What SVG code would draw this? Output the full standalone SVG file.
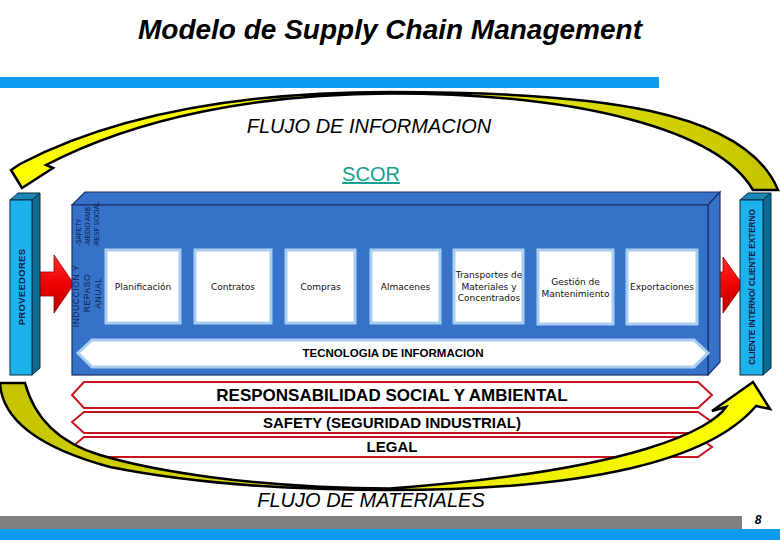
<svg xmlns="http://www.w3.org/2000/svg" width="780" height="540" viewBox="0 0 780 540">
<defs>
<style>
.title{font-family:"Liberation Sans",Arial,sans-serif;font-weight:bold;font-style:italic;font-size:28px;fill:#000}
.flow{font-family:"Liberation Sans",Arial,sans-serif;font-style:italic;font-size:20px;fill:#000}
.scor{font-family:"Liberation Sans",Arial,sans-serif;font-size:20px;fill:#14a08c;text-decoration:underline}
.box{fill:#fff;stroke:#a9cff0;stroke-width:3}
.bt{font-family:"DejaVu Sans",Verdana,sans-serif;font-size:9px;fill:#111;text-anchor:middle}
.band{fill:#fff;stroke:#c8141e;stroke-width:2}
.bandt{font-family:"Liberation Sans",Arial,sans-serif;font-weight:bold;fill:#000;text-anchor:middle}
.face{fill:#3572c8;stroke:#1b2f66;stroke-width:1.2}
.pf{fill:#1eb2ec;stroke:#0a2a40;stroke-width:1}
.ps{fill:#0d6a90;stroke:#0a2a40;stroke-width:1}
.pt{fill:#1a88b6;stroke:#0a2a40;stroke-width:1}
.pil{font-family:"Liberation Sans",Arial,sans-serif;font-weight:bold;fill:#0c1d50;text-anchor:middle}
.rot{font-family:"Liberation Sans",Arial,sans-serif;fill:#0c1d50}
.arc{stroke:#000;stroke-width:2.5;stroke-linejoin:miter}
</style>
<linearGradient id="ytop" x1="0" y1="0" x2="1" y2="0">
<stop offset="0" stop-color="#ffff00"/><stop offset="0.5" stop-color="#f0f000"/><stop offset="1" stop-color="#c4c400"/>
</linearGradient>
<linearGradient id="ybot" x1="0" y1="0" x2="1" y2="0">
<stop offset="0" stop-color="#c4c400"/><stop offset="0.5" stop-color="#e6e600"/><stop offset="1" stop-color="#ffff00"/>
</linearGradient>
<linearGradient id="red" x1="0" y1="0" x2="0" y2="1">
<stop offset="0" stop-color="#ff3030"/><stop offset="0.5" stop-color="#ee0000"/><stop offset="1" stop-color="#b80000"/>
</linearGradient>
</defs>
<rect width="780" height="540" fill="#fff"/>

<text class="title" x="390" y="39" text-anchor="middle">Modelo de Supply Chain Management</text>
<rect x="0" y="77" width="659" height="11" fill="#0b9cf0"/>

<text class="flow" x="369" y="133" text-anchor="middle">FLUJO DE INFORMACION</text>
<text class="scor" x="371" y="181" text-anchor="middle">SCOR</text>

<g id="connectors">
<path id="flujo-informacion" class="arc" fill="url(#ytop)" d="M20,164 C120,112 250,92 390,92 C600,92 745,110 778,190 L753,190 C718,130 580,93.5 390,93.5 C258,94 138,117 46,165 L53,168 L22,188 L11,170 Z"/>
<path id="flecha-izq" fill="url(#red)" stroke="#a00000" stroke-width="0.8" d="M35,272 L54,272 L54,255 L74,284 L54,313 L54,296 L35,296 Z"/>
<path id="flecha-der" fill="url(#red)" stroke="#a00000" stroke-width="0.8" d="M705,272 L723,272 L723,257 L743,285 L723,313 L723,297 L705,297 Z"/>
</g>

<g id="proveedores">
<polygon class="pt" points="10,200 18,193 40,193 32,200"/>
<polygon class="ps" points="32,200 40,193 40,368 32,375"/>
<rect class="pf" x="10" y="200" width="22" height="175"/>
<text class="pil" font-size="9.5" transform="translate(24.5,287) rotate(-90)" letter-spacing="0.3">PROVEEDORES</text>
</g>

<g id="cliente">
<polygon class="pt" points="740,200 748,193 771,193 763,200"/>
<polygon class="ps" points="763,200 771,193 771,368 763,375"/>
<rect class="pf" x="740" y="200" width="23" height="175"/>
<text class="pil" font-size="8.2" transform="translate(755,287) rotate(-90)">CLIENTE INTERNO/ CLIENTE EXTERNO</text>
</g>

<g id="scor-box">
<polygon class="face" points="72,205 85,192 720,192 708,205"/>
<polygon class="face" points="708,205 720,192 720,362 708,375"/>
<rect class="face" x="72" y="205" width="636" height="170"/>
<text class="rot" font-size="8.5" letter-spacing="0.6" text-anchor="middle" transform="translate(78.5,296) rotate(-90)">INDUCCION Y</text>
<text class="rot" font-size="8.5" letter-spacing="0.6" text-anchor="middle" transform="translate(89.5,293) rotate(-90)">REPASO</text>
<text class="rot" font-size="8.5" letter-spacing="0.6" text-anchor="middle" transform="translate(100.5,293) rotate(-90)">ANUAL</text>
<text class="rot" font-size="6.5" transform="translate(80.5,246) rotate(-90)">-SAFETY</text>
<text class="rot" font-size="6.5" transform="translate(89.5,246) rotate(-90)">-MEDIO AMB</text>
<text class="rot" font-size="6.5" transform="translate(99,247) rotate(-90)">-RESP SOCIAL</text>
</g>

<g id="planificacion"><rect class="box" x="106" y="250" width="74" height="73"/><text class="bt" x="143" y="290">Planificación</text></g>
<g id="contratos"><rect class="box" x="195" y="250" width="76" height="73"/><text class="bt" x="233" y="290">Contratos</text></g>
<g id="compras"><rect class="box" x="286" y="250" width="69" height="73"/><text class="bt" x="320.5" y="290">Compras</text></g>
<g id="almacenes"><rect class="box" x="371" y="250" width="69" height="73"/><text class="bt" x="405.5" y="290">Almacenes</text></g>
<g id="transportes"><rect class="box" x="454" y="250" width="69" height="73"/><text class="bt" x="489" y="278">Transportes de</text><text class="bt" x="489" y="290">Materiales y</text><text class="bt" x="489" y="301">Concentrados</text></g>
<g id="gestion"><rect class="box" x="538" y="250" width="75" height="74"/><text class="bt" x="575.5" y="285">Gestión de</text><text class="bt" x="575.5" y="297">Mantenimiento</text></g>
<g id="exportaciones"><rect class="box" x="627" y="250" width="70" height="74"/><text class="bt" x="662" y="290">Exportaciones</text></g>

<g id="tecnologia">
<polygon class="box" points="78,353 92,340 694,340 708,353 694,367 92,367"/>
<text class="bandt" font-size="11.5" x="393" y="357">TECNOLOGIA DE INFORMACION</text>
</g>

<g id="responsabilidad">
<polygon class="band" points="72,395 84,382 698,382 712,395 698,408 84,408"/>
<text class="bandt" font-size="17" x="392" y="401">RESPONSABILIDAD SOCIAL Y AMBIENTAL</text>
</g>
<g id="safety">
<polygon class="band" points="72,422 84,412 698,412 712,422 698,433 84,433"/>
<text class="bandt" font-size="15" x="392" y="428">SAFETY (SEGURIDAD INDUSTRIAL)</text>
</g>
<g id="legal">
<polygon class="band" points="72,447 84,437 698,437 712,447 698,457 84,457"/>
<text class="bandt" font-size="15" x="392" y="452">LEGAL</text>
</g>

<g id="connectors-2">
<path id="flujo-materiales" class="arc" fill="url(#ybot)" d="M0,383 C2,420 40,448 110,467 C200,485 300,490 390,490 C590,490 710,460 756,406 L770,409 L753,382 L712,411 L726,407 C712,428 640,470 390,488.5 C250,488 150,470 100,455 C60,443 35,420 25,383 Z"/>
</g>

<text class="flow" x="371" y="507" text-anchor="middle">FLUJO DE MATERIALES</text>

<rect x="0" y="516" width="742" height="13" fill="#808080"/>
<rect x="0" y="529" width="780" height="11" fill="#0b9cf0"/>
<text x="758" y="524" font-family="Liberation Sans, Arial, sans-serif" font-weight="bold" font-style="italic" font-size="12" fill="#000" text-anchor="middle">8</text>
</svg>
